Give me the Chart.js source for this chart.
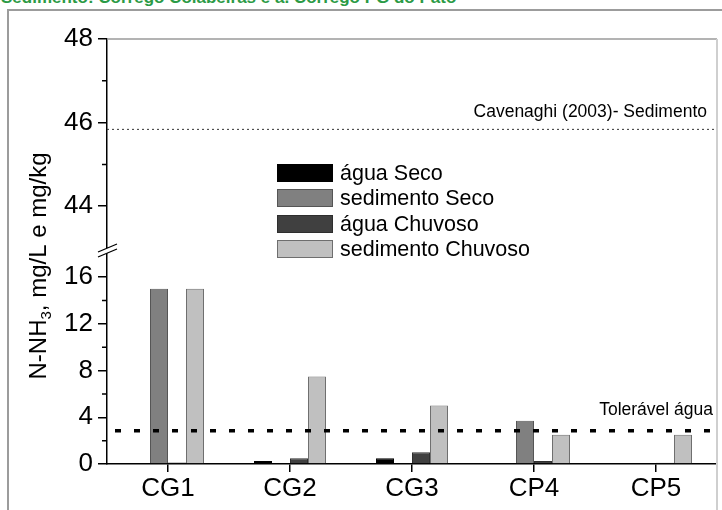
<!DOCTYPE html>
<html>
<head>
<meta charset="utf-8">
<script src="https://cdn.jsdelivr.net/npm/chart.js@4.4.1/dist/chart.umd.min.js"></script>
<style>
  html, body { margin: 0; padding: 0; background: #fff; }
  #wrap { position: relative; width: 722px; height: 510px; overflow: hidden; }
  #title { position: absolute; left: 1px; top: -12px; font: bold 17px "Liberation Sans", Arial, sans-serif; color: #2b9a45; white-space: nowrap; }
  #frame { position: absolute; left: 7px; top: 9px; width: 730px; height: 520px; border-left: 2px solid #9c9c9c; border-top: 2px solid #9c9c9c; }
  canvas { position: absolute; left: 0; top: 0; }
</style>
</head>
<body>
<div id="wrap">
  <div id="title">Sedimento: Córrego Colabeiras e a. Córrego PG do Pato</div>
  <div id="frame"></div>
  <canvas id="nh3Chart" width="722" height="510"></canvas>
</div>
<script>
// ===== data =====
const categories = ['CG1', 'CG2', 'CG3', 'CP4', 'CP5'];
const seriesNames = ['água Seco', 'sedimento Seco', 'água Chuvoso', 'sedimento Chuvoso'];
const aguaSeco = [0, 0.25, 0.5, 0, 0];
const sedimentoSeco = [15, 0, 0, 3.7, 0];
const aguaChuvoso = [0.12, 0.5, 1.0, 0.25, 0.1];
const sedimentoChuvoso = [15, 7.5, 5.0, 2.5, 2.5];

// broken y axis: lower part for the bars, upper part for the sediment reference
const lowTicks = [0, 4, 8, 12, 16];
const lowMinor = [2, 6, 10, 14];
const highTicks = [44, 46, 48];
const highMinor = [45, 47];

const toleravelAgua = 2.85;
const cavenaghiSedimento = 45.85;

const FONT = '"Liberation Sans", Arial, sans-serif';
Chart.defaults.font.family = FONT;
Chart.defaults.color = '#000';

// ===== helpers drawn on top of the chart =====
const extras = {
  id: 'extras',
  afterDatasetsDraw(chart) {
    const { ctx, chartArea: a } = chart;
    const yLow = chart.scales.yLow, yHigh = chart.scales.yHigh;
    ctx.save();

    // plot frame (top + right)
    ctx.strokeStyle = '#9a9a9a';
    ctx.lineWidth = 1.5;
    ctx.beginPath();
    ctx.moveTo(a.left, a.top); ctx.lineTo(a.right, a.top);
    ctx.stroke();
    ctx.strokeStyle = '#cfcfcf';
    ctx.lineWidth = 2;
    ctx.beginPath();
    ctx.moveTo(a.right, a.top); ctx.lineTo(a.right, 510);
    ctx.stroke();

    // minor ticks
    ctx.strokeStyle = '#000';
    ctx.lineWidth = 1.5;
    ctx.beginPath();
    lowMinor.forEach(v => { const y = yLow.getPixelForValue(v); ctx.moveTo(a.left - 5, y); ctx.lineTo(a.left, y); });
    highMinor.forEach(v => { const y = yHigh.getPixelForValue(v); ctx.moveTo(a.left - 5, y); ctx.lineTo(a.left, y); });
    ctx.stroke();

    // axis break marks
    const yb = yHigh.bottom;
    ctx.fillStyle = '#fff';
    ctx.beginPath();
    ctx.moveTo(a.left - 9, yb + 4); ctx.lineTo(a.left + 10, yb - 4);
    ctx.lineTo(a.left + 10, yb + 1); ctx.lineTo(a.left - 9, yb + 9);
    ctx.closePath();
    ctx.fill();
    ctx.lineWidth = 1.3;
    ctx.beginPath();
    ctx.moveTo(a.left - 9, yb + 4); ctx.lineTo(a.left + 10, yb - 4);
    ctx.moveTo(a.left - 9, yb + 9); ctx.lineTo(a.left + 10, yb + 1);
    ctx.stroke();

    // Cavenaghi (2003) sediment reference
    const yc = yHigh.getPixelForValue(cavenaghiSedimento);
    ctx.strokeStyle = '#333';
    ctx.lineWidth = 1;
    ctx.setLineDash([2, 3]);
    ctx.beginPath();
    ctx.moveTo(a.left, yc + 0.5); ctx.lineTo(a.right, yc + 0.5);
    ctx.stroke();

    // tolerable value for water
    const yt = yLow.getPixelForValue(toleravelAgua);
    ctx.strokeStyle = '#000';
    ctx.lineWidth = 3.5;
    ctx.setLineDash([6, 13]);
    ctx.beginPath();
    ctx.moveTo(a.left + 8, yt); ctx.lineTo(a.right, yt);
    ctx.stroke();
    ctx.setLineDash([]);

    ctx.fillStyle = '#000';
    ctx.textAlign = 'right';
    ctx.textBaseline = 'alphabetic';
    ctx.font = '17.5px ' + FONT;
    ctx.fillText('Cavenaghi (2003)- Sedimento', a.right - 10, yc - 12);
    ctx.fillText('Tolerável água', a.right - 4, yt - 16);

    // legend
    ctx.textAlign = 'left';
    ctx.textBaseline = 'middle';
    ctx.font = '21.5px ' + FONT;
    chart.data.datasets.forEach((ds, i) => {
      const y = Math.round(164 + i * 25.3);
      ctx.fillStyle = ds.backgroundColor;
      ctx.fillRect(277, y, 56, 18);
      ctx.strokeStyle = ds.borderColor;
      ctx.lineWidth = 1;
      ctx.strokeRect(277.5, y + 0.5, 55, 17);
      ctx.fillStyle = '#000';
      ctx.fillText(ds.label, 340, y + 10);
    });

    // y axis title with subscript
    ctx.translate(46, 266);
    ctx.rotate(-Math.PI / 2);
    ctx.textBaseline = 'alphabetic';
    const parts = [['N-NH', 24, 0], ['3', 15, 5], [', mg/L e mg/kg', 24, 0]];
    let total = 0;
    parts.forEach(p => { ctx.font = p[1] + 'px ' + FONT; total += ctx.measureText(p[0]).width; });
    let x = -total / 2;
    parts.forEach(p => {
      ctx.font = p[1] + 'px ' + FONT;
      ctx.fillText(p[0], x, p[2]);
      x += ctx.measureText(p[0]).width;
    });

    ctx.restore();
  }
};

const barStyle = (fill, border) => ({
  backgroundColor: fill,
  borderColor: border,
  borderWidth: 1,
  barPercentage: 1,
  categoryPercentage: 0.59,
  yAxisID: 'yLow'
});

const yTicks = { font: { size: 26 }, color: '#000', padding: 5, autoSkip: false };
const yGrid = { drawOnChartArea: false, tickLength: 9, tickColor: '#000', lineWidth: 1.5 };

new Chart(document.getElementById('nh3Chart'), {
  type: 'bar',
  data: {
    labels: categories,
    datasets: [
      { label: seriesNames[0], data: aguaSeco, ...barStyle('#000000', '#000000') },
      { label: seriesNames[1], data: sedimentoSeco, ...barStyle('#808080', '#555555') },
      { label: seriesNames[2], data: aguaChuvoso, ...barStyle('#404040', '#2e2e2e') },
      { label: seriesNames[3], data: sedimentoChuvoso, ...barStyle('#c0c0c0', '#6e6e6e') }
    ]
  },
  options: {
    responsive: false,
    animation: false,
    layout: { padding: { top: 39, right: 5, left: 0, bottom: 0 } },
    plugins: { legend: { display: false }, tooltip: { enabled: false } },
    scales: {
      x: {
        grid: { offset: false, drawOnChartArea: false, tickLength: 8, tickColor: '#000', lineWidth: 1.5 },
        border: { color: '#000', width: 1.5 },
        ticks: { font: { size: 26 }, color: '#000', padding: 1, autoSkip: false },
        afterFit: s => { s.height = 46; }
      },
      yLow: {
        type: 'linear',
        position: 'left',
        stack: 'v',
        stackWeight: 216,
        min: 0,
        max: 18.5,
        afterBuildTicks: s => { s.ticks = lowTicks.map(v => ({ value: v })); },
        grid: yGrid,
        border: { color: '#000', width: 1.5 },
        ticks: yTicks,
        afterFit: s => { s.width = 107; }
      },
      yHigh: {
        type: 'linear',
        position: 'left',
        stack: 'v',
        stackWeight: 209,
        min: 43,
        max: 48,
        afterBuildTicks: s => { s.ticks = highTicks.map(v => ({ value: v })); },
        grid: yGrid,
        border: { color: '#000', width: 1.5 },
        ticks: yTicks,
        afterFit: s => { s.width = 107; }
      }
    }
  },
  plugins: [extras]
});
</script>
</body>
</html>
